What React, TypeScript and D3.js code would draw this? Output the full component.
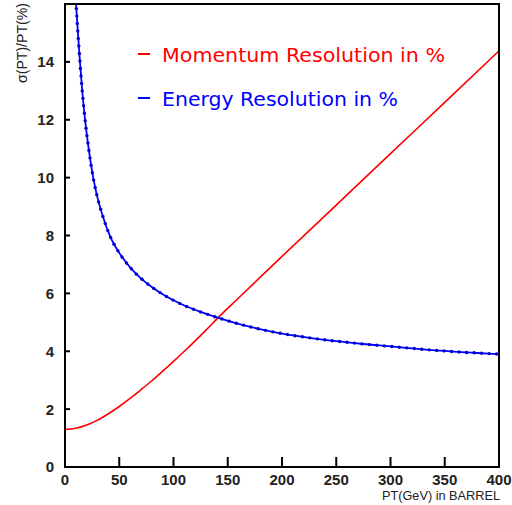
import React, { useEffect, useRef } from 'react';
import * as d3 from 'd3';

// momentum resolution (red)
const momentumPt = [0, 10, 20, 30, 40, 50, 60, 70, 80, 90, 100, 110, 120, 130, 140, 160, 200, 250, 300, 350, 400];
const momentumRes = [1.3, 1.34, 1.45, 1.62, 1.84, 2.09, 2.37, 2.67, 2.98, 3.31, 3.65, 4.0, 4.36, 4.73, 5.12, 5.84, 7.28, 9.05, 10.83, 12.6, 14.38];

// energy resolution (blue)
const energyPt = [10, 12, 13.8, 16, 18.5, 22, 26, 30, 35, 41.5, 50, 60, 70, 80, 90, 100, 110, 125, 140, 155, 170, 185, 200, 215, 230, 245, 260, 275, 290, 305, 320, 335, 350, 365, 380, 400];
const energyRes = [16.1, 14.95, 14.0, 12.95, 12.0, 10.95, 10.0, 9.3, 8.65, 7.98, 7.4, 6.9, 6.52, 6.22, 5.97, 5.76, 5.58, 5.36, 5.17, 5.0, 4.85, 4.72, 4.61, 4.52, 4.44, 4.37, 4.31, 4.25, 4.2, 4.15, 4.1, 4.05, 4.01, 3.97, 3.94, 3.9];

const xTicks = [0, 50, 100, 150, 200, 250, 300, 350, 400];
const yTicks = [0, 2, 4, 6, 8, 10, 12, 14];

const legendLabels = ['Momentum Resolution in %', 'Energy Resolution in %'];
const legendColors = ['#ff0000', '#0000ff'];

const App: React.FC = () => {
  const svgRef = useRef<SVGSVGElement | null>(null);

  useEffect(() => {
    if (!svgRef.current) return;
    const svg = d3.select(svgRef.current);
    svg.selectAll('*').remove();

    const left = 65, right = 499, top = 4, bottom = 467;
    const x = d3.scaleLinear().domain([0, 400]).range([left, right]);
    const y = d3.scaleLinear().domain([0, 16]).range([bottom, top]);

    const clip = svg.append('clipPath').attr('id', 'plotclip');
    clip.append('rect').attr('x', left).attr('y', top).attr('width', right - left).attr('height', bottom - top);

    const plot = svg.append('g').attr('clip-path', 'url(#plotclip)');

    const line = d3.line<[number, number]>()
      .x(d => x(d[0]))
      .y(d => y(d[1]))
      .curve(d3.curveMonotoneX);

    const red: [number, number][] = momentumPt.map((p, i) => [p, momentumRes[i]]);
    const blue: [number, number][] = energyPt.map((p, i) => [p, energyRes[i]]);

    plot.append('path')
      .attr('d', line(red) || '')
      .attr('fill', 'none')
      .attr('stroke', legendColors[0])
      .attr('stroke-width', 1.6);

    const bluePath = plot.append('path')
      .attr('d', line(blue) || '')
      .attr('fill', 'none')
      .attr('stroke', legendColors[1])
      .attr('stroke-width', 1.8);

    // small markers along the blue curve
    const node = bluePath.node() as SVGPathElement;
    const total = node.getTotalLength();
    const dots: DOMPoint[] = [];
    for (let l = 0; l <= total; l += 7.5) dots.push(node.getPointAtLength(l));
    plot.selectAll('circle.dot')
      .data(dots)
      .enter()
      .append('circle')
      .attr('cx', d => d.x)
      .attr('cy', d => d.y)
      .attr('r', 1.7)
      .attr('fill', '#0000cc');

    // frame
    svg.append('rect')
      .attr('x', left).attr('y', top)
      .attr('width', right - left).attr('height', bottom - top)
      .attr('fill', 'none').attr('stroke', '#000').attr('stroke-width', 2);

    // x ticks (inside)
    svg.selectAll('line.xt')
      .data(xTicks.filter(t => t > 0 && t < 400))
      .enter()
      .append('line')
      .attr('x1', d => x(d)).attr('x2', d => x(d))
      .attr('y1', bottom).attr('y2', bottom - 10)
      .attr('stroke', '#000').attr('stroke-width', 2);

    svg.selectAll('text.xl')
      .data(xTicks)
      .enter()
      .append('text')
      .attr('x', d => x(d))
      .attr('y', 485)
      .attr('text-anchor', 'middle')
      .attr('font-family', 'Liberation Sans, Arial, sans-serif')
      .attr('font-weight', 'bold')
      .attr('font-size', 15)
      .attr('fill', '#222')
      .text(d => d);

    // y ticks (inside)
    svg.selectAll('line.yt')
      .data(yTicks.filter(t => t > 0))
      .enter()
      .append('line')
      .attr('x1', left).attr('x2', left + 5)
      .attr('y1', d => y(d)).attr('y2', d => y(d))
      .attr('stroke', '#000').attr('stroke-width', 2);

    svg.selectAll('text.yl')
      .data(yTicks)
      .enter()
      .append('text')
      .attr('x', 54)
      .attr('y', d => y(d))
      .attr('dy', '0.36em')
      .attr('text-anchor', 'end')
      .attr('font-family', 'Liberation Sans, Arial, sans-serif')
      .attr('font-weight', 'bold')
      .attr('font-size', 15)
      .attr('fill', '#222')
      .text(d => d);

    // axis titles
    svg.append('text')
      .attr('transform', 'translate(27,43) rotate(-90)')
      .attr('text-anchor', 'middle')
      .attr('font-family', 'Liberation Sans, Arial, sans-serif')
      .attr('font-size', 14)
      .attr('textLength', 80)
      .attr('lengthAdjust', 'spacingAndGlyphs')
      .attr('fill', '#222')
      .text('σ(PT)/PT(%)');

    svg.append('text')
      .attr('x', 500)
      .attr('y', 500)
      .attr('text-anchor', 'end')
      .attr('font-family', 'Liberation Sans, Arial, sans-serif')
      .attr('font-size', 13)
      .attr('textLength', 118)
      .attr('lengthAdjust', 'spacingAndGlyphs')
      .attr('fill', '#222')
      .text('PT(GeV) in BARREL');

    // legend
    const legendY = [54, 98];
    const legendW = [283, 236];
    legendLabels.forEach((lab, i) => {
      svg.append('line')
        .attr('x1', 138).attr('x2', 150)
        .attr('y1', legendY[i]).attr('y2', legendY[i])
        .attr('stroke', legendColors[i]).attr('stroke-width', 2);
      svg.append('text')
        .attr('x', 162)
        .attr('y', legendY[i] + 7.5)
        .attr('font-family', 'DejaVu Sans, sans-serif')
        .attr('font-size', 20)
        .attr('textLength', legendW[i])
        .attr('lengthAdjust', 'spacingAndGlyphs')
        .attr('fill', legendColors[i])
        .text(lab);
    });
  }, []);

  return (
    <div style={{ position: 'absolute', left: 0, top: 0 }}>
      <svg ref={svgRef} width={512} height={505} style={{ display: 'block', background: '#fff' }} />
    </div>
  );
};

export default App;
